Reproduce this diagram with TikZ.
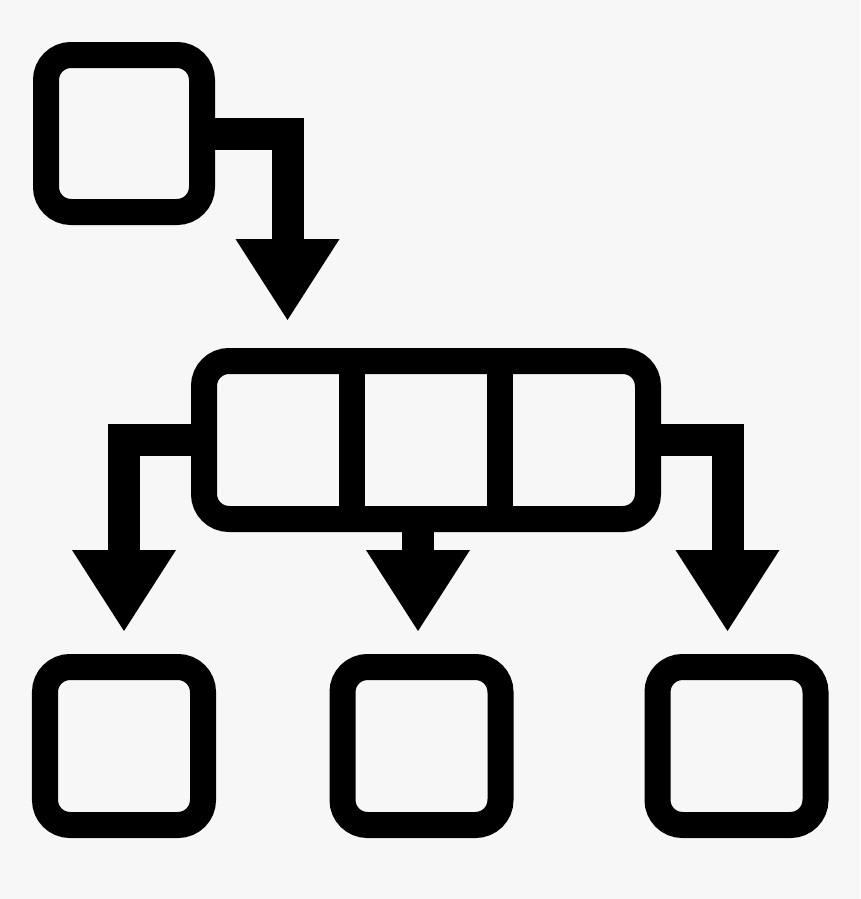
\documentclass[tikz,border=0pt]{standalone}
\usetikzlibrary{arrows.meta}
\definecolor{bgcol}{HTML}{F7F7F7}
\begin{document}
\begin{tikzpicture}[box/.style = {rectangle, draw, line width=0.52cm, rounded corners=0.5cm, inner sep=0pt},
    link/.style = {line width=0.64cm, -{Triangle[width=2.08cm, length=1.62cm, line width=0pt]}}]
    \fill[bgcol] (0,0) rectangle (17.2,-17.98);

    \node [box, minimum width=3.12cm, minimum height=3.14cm] (root) at (2.48,-2.67) {};
    \node [box, minimum width=8.88cm, minimum height=3.16cm] (group) at (8.52,-8.80) {};
    \node [box, minimum width=3.16cm, minimum height=3.16cm] (leafa) at (2.48,-14.92) {};
    \node [box, minimum width=3.16cm, minimum height=3.16cm] (leafb) at (8.43,-14.92) {};
    \node [box, minimum width=3.16cm, minimum height=3.16cm] (leafc) at (14.73,-14.92) {};

    \draw[line width=0.52cm] ([xshift=3.22cm]group.north west) -- ([xshift=3.22cm]group.south west);
    \draw[line width=0.52cm] ([xshift=-3.22cm]group.north east) -- ([xshift=-3.22cm]group.south east);

    \draw[link, shorten >=0.56cm] (root.east) -| ([xshift=-2.77cm]group.north);
    \draw[link, shorten >=0.46cm] (group.west) -| (leafa.north);
    \draw[link, shorten >=0.46cm] ([xshift=-0.07cm]leafb.north |- group.south) -- ([xshift=-0.07cm]leafb.north);
    \draw[link, shorten >=0.46cm] (group.east) -| ([xshift=-0.18cm]leafc.north);
\end{tikzpicture}
\end{document}
